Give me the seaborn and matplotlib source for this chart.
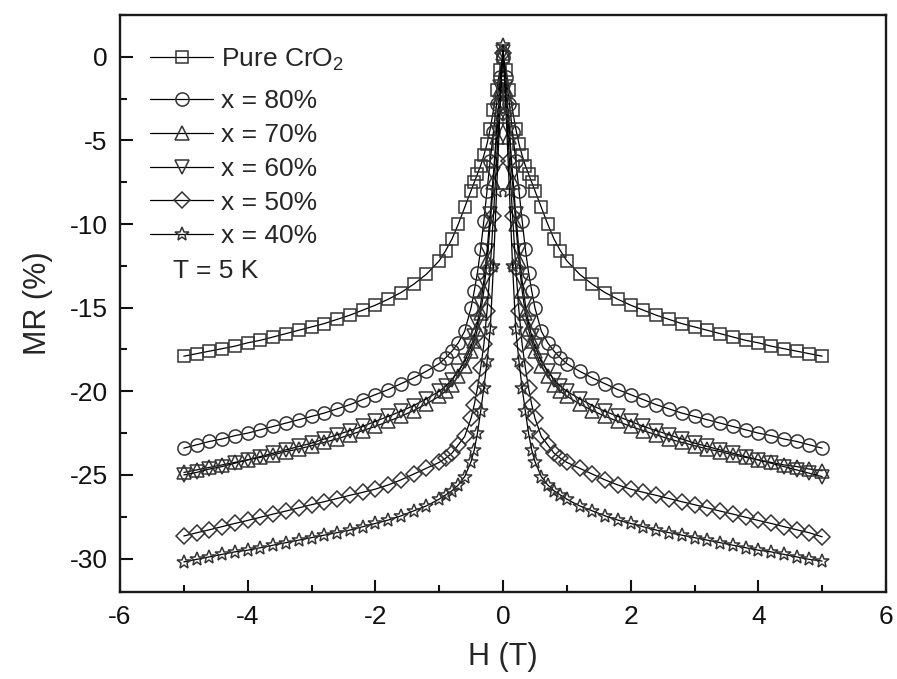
import matplotlib
matplotlib.use("Agg")
import matplotlib.pyplot as plt
import seaborn as sns
import numpy as np

# ---- data (H in T, MR in %) ----
H = [-5.0, -4.8, -4.6, -4.4, -4.2, -4.0, -3.8, -3.6, -3.4, -3.2, -3.0, -2.8, -2.6, -2.4, -2.2,
     -2.0, -1.8, -1.6, -1.4, -1.2, -1.0, -0.9, -0.8, -0.7, -0.6, -0.5, -0.45, -0.4, -0.35, -0.3,
     -0.25, -0.2, -0.15, -0.1, -0.05, 0.0, 0.05, 0.1, 0.15, 0.2, 0.25, 0.3, 0.35, 0.4, 0.45, 0.5,
     0.6, 0.7, 0.8, 0.9, 1.0, 1.2, 1.4, 1.6, 1.8, 2.0, 2.2, 2.4, 2.6, 2.8, 3.0, 3.2, 3.4, 3.6,
     3.8, 4.0, 4.2, 4.4, 4.6, 4.8, 5.0]

mr_pure = [-17.9, -17.75, -17.6, -17.45, -17.3, -17.1, -16.95, -16.75, -16.55, -16.35, -16.15,
           -15.95, -15.7, -15.45, -15.15, -14.85, -14.5, -14.1, -13.6, -13.0, -12.2, -11.6, -10.9,
           -10.0, -9.0, -8.0, -7.5, -7.0, -6.5, -5.9, -5.2, -4.3, -3.2, -2.0, -0.8, 0.0,
           -0.8, -2.0, -3.2, -4.3, -5.2, -5.9, -6.5, -7.0, -7.5, -8.0, -9.0, -10.0, -10.9, -11.6,
           -12.2, -13.0, -13.6, -14.1, -14.5, -14.85, -15.15, -15.45, -15.7, -15.95, -16.15,
           -16.35, -16.55, -16.75, -16.95, -17.1, -17.3, -17.45, -17.6, -17.75, -17.9]

mr_80 = [-23.4, -23.2, -23.0, -22.85, -22.65, -22.5, -22.3, -22.1, -21.9, -21.7, -21.5, -21.3,
         -21.05, -20.8, -20.5, -20.2, -19.9, -19.55, -19.2, -18.8, -18.35, -18.0, -17.6, -17.1,
         -16.4, -15.0, -14.0, -12.9, -11.5, -9.8, -8.0, -6.2, -4.5, -2.8, -1.2, 0.0,
         -1.2, -2.8, -4.5, -6.2, -8.0, -9.8, -11.5, -12.9, -14.0, -15.0, -16.4, -17.1, -17.6,
         -18.0, -18.35, -18.8, -19.2, -19.55, -19.9, -20.2, -20.5, -20.8, -21.05, -21.3, -21.5,
         -21.7, -21.9, -22.1, -22.3, -22.5, -22.65, -22.85, -23.0, -23.2, -23.4]

mr_70 = [-24.85, -24.7, -24.55, -24.4, -24.25, -24.1, -23.95, -23.8, -23.6, -23.45, -23.25,
         -23.05, -22.85, -22.6, -22.35, -22.1, -21.8, -21.5, -21.15, -20.75, -20.3, -20.0, -19.6,
         -19.1, -18.5, -17.6, -17.0, -16.3, -15.3, -14.0, -12.2, -10.0, -7.5, -4.8, -2.0, 0.2,
         -2.0, -4.8, -7.5, -10.0, -12.2, -14.0, -15.3, -16.3, -17.0, -17.6, -18.5, -19.1, -19.6,
         -20.0, -20.3, -20.75, -21.15, -21.5, -21.8, -22.1, -22.35, -22.6, -22.85, -23.05, -23.25,
         -23.45, -23.6, -23.8, -23.95, -24.1, -24.25, -24.4, -24.5, -24.65, -24.75]

mr_60 = [-25.0, -24.85, -24.65, -24.5, -24.3, -24.1, -23.9, -23.7, -23.5, -23.3, -23.1, -22.85,
         -22.6, -22.35, -22.1, -21.8, -21.5, -21.2, -20.85, -20.45, -20.0, -19.7, -19.3, -18.8,
         -18.2, -17.3, -16.7, -15.9, -14.8, -13.4, -11.6, -9.4, -7.0, -4.4, -1.8, 0.3,
         -1.8, -4.4, -7.0, -9.4, -11.6, -13.4, -14.8, -15.9, -16.7, -17.3, -18.2, -18.8, -19.3,
         -19.7, -20.0, -20.45, -20.85, -21.2, -21.5, -21.8, -22.1, -22.35, -22.6, -22.85, -23.1,
         -23.3, -23.5, -23.7, -23.9, -24.1, -24.3, -24.5, -24.7, -24.9, -25.1]

mr_50 = [-28.65, -28.46, -28.28, -28.09, -27.9, -27.72, -27.53, -27.34, -27.16, -26.97, -26.78,
         -26.6, -26.41, -26.22, -26.04, -25.85, -25.6, -25.3, -24.95, -24.6, -24.25, -24.0, -23.7,
         -23.2, -22.7, -21.6, -20.8, -19.8, -18.6, -17.2, -15.2, -12.6, -9.5, -6.2, -2.8, 0.2,
         -2.8, -6.2, -9.5, -12.6, -15.2, -17.2, -18.6, -19.8, -20.8, -21.6, -22.7, -23.2, -23.7,
         -24.0, -24.25, -24.6, -24.95, -25.3, -25.6, -25.85, -26.04, -26.22, -26.41, -26.6,
         -26.78, -26.97, -27.16, -27.34, -27.53, -27.72, -27.9, -28.09, -28.28, -28.46, -28.7]

mr_40 = [-30.2, -30.05, -29.9, -29.75, -29.6, -29.5, -29.35, -29.2, -29.05, -28.9, -28.75, -28.6,
         -28.45, -28.3, -28.1, -27.9, -27.7, -27.45, -27.15, -26.85, -26.45, -26.2, -25.95, -25.6,
         -25.1, -24.2, -23.5, -22.5, -21.2, -19.8, -18.2, -16.3, -12.5, -8.0, -3.5, 0.7,
         -3.5, -8.0, -12.5, -16.3, -18.2, -19.8, -21.2, -22.5, -23.5, -24.2, -25.1, -25.6, -25.95,
         -26.2, -26.45, -26.85, -27.15, -27.45, -27.7, -27.9, -28.1, -28.3, -28.45, -28.6, -28.75,
         -28.9, -29.05, -29.2, -29.35, -29.5, -29.6, -29.75, -29.9, -30.05, -30.15]

labels = ["Pure CrO$_\\mathregular{2}$", "x = 80%", "x = 70%", "x = 60%", "x = 50%", "x = 40%"]
series = [mr_pure, mr_80, mr_70, mr_60, mr_50, mr_40]
markers = ["s", "o", "^", "v", "D", "*"]
msizes = [8.5, 9.5, 9.5, 9.5, 8.5, 10.5]

x_ticks = [-6, -4, -2, 0, 2, 4, 6]
y_ticks = [0, -5, -10, -15, -20, -25, -30]

# ---- style ----
sns.set_style("ticks")
plt.rcParams["font.family"] = ["Liberation Sans", "DejaVu Sans"]
plt.rcParams["mathtext.fontset"] = "custom"
plt.rcParams["mathtext.rm"] = "Liberation Sans"

fig = plt.figure(figsize=(8.97, 6.79), dpi=100)
ax = fig.add_axes([120 / 897, 1 - 592 / 679, 766 / 897, 577 / 679])

for mr, lab, mk, ms in zip(series, labels, markers, msizes):
    sns.lineplot(x=H, y=mr, ax=ax, color="black", linewidth=0.9, marker=mk,
                 markersize=ms, markerfacecolor="none", markeredgecolor="#333333",
                 markeredgewidth=1.1, label=lab, estimator=None, sort=False)

ax.set_xlim(-6, 6)
ax.set_ylim(-32, 2.5)
ax.set_xticks(x_ticks)
ax.set_yticks(y_ticks)
ax.set_xticklabels([str(t) for t in x_ticks])
ax.set_yticklabels([str(t) for t in y_ticks])
ax.xaxis.set_minor_locator(matplotlib.ticker.MultipleLocator(1))
ax.yaxis.set_minor_locator(matplotlib.ticker.MultipleLocator(2.5))
ax.tick_params(which="major", direction="in", length=9, width=1.5, labelsize=19, pad=9,
               top=False, right=False, colors="#111111")
ax.tick_params(which="minor", direction="in", length=5, width=1.5, top=False, right=False,
               colors="#111111")
for sp in ax.spines.values():
    sp.set_linewidth(1.7)
    sp.set_color("#1a1a1a")

ax.set_xlabel("H (T)", fontsize=22, labelpad=10)
ax.set_ylabel("MR (%)", fontsize=22, labelpad=12)

handles, labs = ax.get_legend_handles_labels()
leg_kw = dict(loc="upper left", frameon=False, fontsize=19, handlelength=2.4,
              handletextpad=0.3, labelspacing=0.37, borderpad=0, borderaxespad=0)
leg1 = ax.legend(handles[:1], labs[:1], bbox_to_anchor=(0.039, 0.946), **leg_kw)
ax.add_artist(leg1)
leg2 = ax.legend(handles[1:], labs[1:], bbox_to_anchor=(0.039, 0.871), **leg_kw)
ax.text(-5.17, -12.8, "T = 5 K", fontsize=19, va="center", ha="left")

fig.savefig("out.png", dpi=100)
